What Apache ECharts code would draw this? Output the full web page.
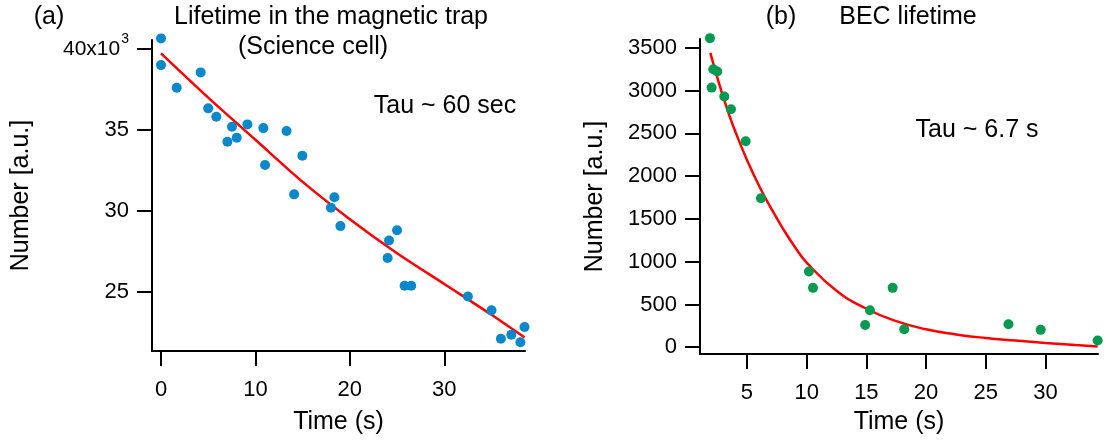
<!DOCTYPE html>
<html>
<head>
<meta charset="utf-8">
<script src="https://cdn.jsdelivr.net/npm/echarts@6/dist/echarts.min.js"></script>
<style>
html,body{margin:0;padding:0;background:#fff;}
#chart{width:1107px;height:442px;}
</style>
</head>
<body>
<div id="chart"></div>
<script>
// Panel (a): magnetic trap lifetime
const leftTime = [0, 0, 1.66, 4.2, 5.0, 5.86, 7.03, 7.52, 8.02, 9.15, 10.84, 11.02, 13.3, 14.97, 14.1, 18.36, 18.0, 19.0, 24.15, 25.0, 24.0, 25.8, 26.5, 32.5, 35.0, 36.0, 37.1, 38.06, 38.5];
const leftNumber = [40660, 39010, 37610, 38560, 36340, 35820, 34280, 35200, 34520, 35350, 35120, 32840, 34940, 33410, 31030, 30850, 30200, 29070, 28180, 28820, 27100, 25390, 25390, 24730, 23870, 22120, 22360, 21900, 22840];
const leftFitTime = [0, 5, 10, 15, 20, 25, 30, 35, 38.5];
const leftFitNumber = [39730, 37000, 34400, 31800, 29500, 27400, 25500, 23600, 22200];
const leftXTicks = [0, 10, 20, 30];
const leftYTicks = [25000, 30000, 35000, 40000];

// Panel (b): BEC lifetime
const rightTime = [1.90, 2.18, 2.51, 2.04, 3.10, 3.66, 4.89, 6.17, 10.19, 10.53, 14.9, 15.3, 17.2, 18.17, 26.9, 29.6, 34.37];
const rightNumber = [3613, 3250, 3223, 3035, 2930, 2782, 2408, 1741, 886, 694, 261, 433, 694, 211, 269, 203, 78];
const rightFitTime = [1.93, 2.5, 3, 3.5, 4, 5, 6, 7, 8, 9, 10, 12.5, 15, 17.5, 20, 22.5, 25, 27.5, 30, 32.5, 34.37];
const rightFitNumber = [3440, 3160, 2930, 2720, 2530, 2190, 1890, 1630, 1390, 1175, 990, 660, 450, 305, 210, 150, 108, 78, 50, 25, 8];
const rightXTicks = [5, 10, 15, 20, 25, 30];
const rightYTicks = [0, 500, 1000, 1500, 2000, 2500, 3000, 3500];

const FONT = '"Liberation Sans", Arial, sans-serif';
const pair = (xs, ys) => xs.map((x, i) => [x, ys[i]]);

const axisCommon = {
  axisLine: { show: true, onZero: false, lineStyle: { color: '#000', width: 2 } },
  splitLine: { show: false },
  nameTextStyle: { fontFamily: FONT, fontSize: 25, color: '#000' }
};

function xAxis(idx, min, max, ticks, gap) {
  return Object.assign({}, axisCommon, {
    type: 'value', gridIndex: idx, min: min, max: max,
    name: 'Time (s)', nameLocation: 'middle', nameGap: gap,
    axisTick: { show: true, inside: false, length: 15, customValues: ticks, lineStyle: { color: '#000', width: 2 } },
    axisLabel: { customValues: ticks, margin: 28, fontFamily: FONT, fontSize: 22, color: '#000' }
  });
}
function yAxis(idx, min, max, ticks, fmt, rich, gap) {
  return Object.assign({}, axisCommon, {
    type: 'value', gridIndex: idx, min: min, max: max,
    name: 'Number [a.u.]', nameLocation: 'middle', nameGap: gap,
    axisTick: { show: true, inside: false, length: 15, customValues: ticks, lineStyle: { color: '#000', width: 2 } },
    axisLabel: { customValues: ticks, margin: 23, fontFamily: FONT, fontSize: 22, color: '#000', formatter: fmt, rich: rich }
  });
}

const chart = echarts.init(document.getElementById('chart'), null, { renderer: 'canvas' });
chart.setOption({
  animation: false,
  backgroundColor: '#fff',
  textStyle: { fontFamily: FONT },
  grid: [
    { left: 152, top: 40, width: 373, height: 311, containLabel: false },
    { left: 700, top: 39, width: 398, height: 315, containLabel: false }
  ],
  xAxis: [
    xAxis(0, -0.953, 38.55, leftXTicks, 59),
    xAxis(1, 1.066, 34.40, rightXTicks, 56)
  ],
  yAxis: [
    yAxis(0, 21360, 40560, leftYTicks,
      v => v === 40000 ? '{a|40x10}{s|3}' : String(v / 1000),
      { a: { fontFamily: FONT, fontSize: 21, color: '#000' },
        s: { fontFamily: FONT, fontSize: 14, color: '#000', padding: [0, 0, 20, 1] } }, 118),
    yAxis(1, -79, 3603, rightYTicks, v => String(v), null, 92)
  ],
  graphic: [
    { type: 'text', x: 49, y: 17, style: { text: '(a)', font: '25px ' + FONT, fill: '#000', align: 'center', verticalAlign: 'middle' } },
    { type: 'text', x: 331, y: 17, style: { text: 'Lifetime in the magnetic trap', font: '25px ' + FONT, fill: '#000', align: 'center', verticalAlign: 'middle' } },
    { type: 'text', x: 313, y: 47, style: { text: '(Science cell)', font: '25px ' + FONT, fill: '#000', align: 'center', verticalAlign: 'middle' } },
    { type: 'text', x: 445, y: 106, style: { text: 'Tau ~ 60 sec', font: '25px ' + FONT, fill: '#000', align: 'center', verticalAlign: 'middle' } },
    { type: 'text', x: 781, y: 17, style: { text: '(b)', font: '25px ' + FONT, fill: '#000', align: 'center', verticalAlign: 'middle' } },
    { type: 'text', x: 908, y: 17, style: { text: 'BEC lifetime', font: '25px ' + FONT, fill: '#000', align: 'center', verticalAlign: 'middle' } },
    { type: 'text', x: 977, y: 130, style: { text: 'Tau ~ 6.7 s', font: '25px ' + FONT, fill: '#000', align: 'center', verticalAlign: 'middle' } }
  ],
  series: [
    { type: 'line', xAxisIndex: 0, yAxisIndex: 0, data: pair(leftFitTime, leftFitNumber), smooth: 0.3, showSymbol: false, clip: false,
      lineStyle: { color: '#ff0000', width: 2.5 }, z: 2 },
    { type: 'scatter', xAxisIndex: 0, yAxisIndex: 0, data: pair(leftTime, leftNumber), symbolSize: 10, clip: false,
      itemStyle: { color: '#0a88cc', opacity: 1 }, z: 3 },
    { type: 'line', xAxisIndex: 1, yAxisIndex: 1, data: pair(rightFitTime, rightFitNumber), smooth: true, showSymbol: false, clip: false,
      lineStyle: { color: '#ff0000', width: 2.5 }, z: 2 },
    { type: 'scatter', xAxisIndex: 1, yAxisIndex: 1, data: pair(rightTime, rightNumber), symbolSize: 10, clip: false,
      itemStyle: { color: '#069a50', opacity: 1 }, z: 3 }
  ]
});
</script>
</body>
</html>
